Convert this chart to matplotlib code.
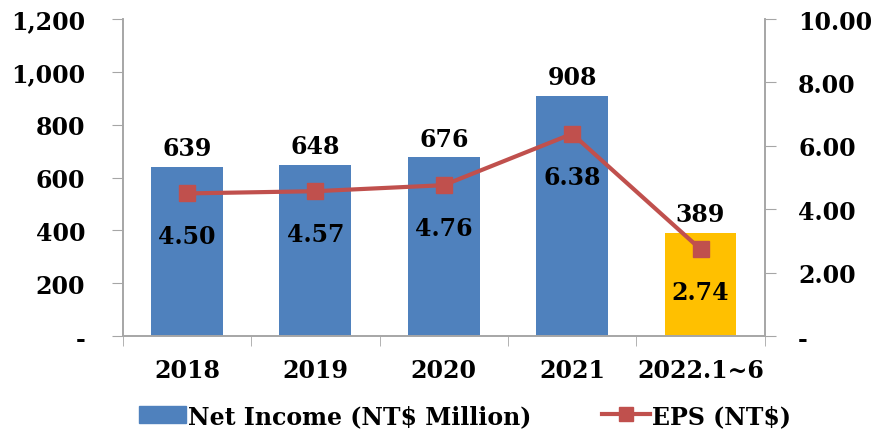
import numpy as np
import matplotlib
matplotlib.use("Agg")
import matplotlib.pyplot as plt
from matplotlib.lines import Line2D
from matplotlib.patches import Patch

#####################
### Data
#####################
years = ["2018", "2019", "2020", "2021", "2022.1~6"]
net_income = [639, 648, 676, 908, 389]
eps = [4.50, 4.57, 4.76, 6.38, 2.74]
bar_colors = ["#4F81BD", "#4F81BD", "#4F81BD", "#4F81BD", "#FFC000"]
left_ticks = [0, 200, 400, 600, 800, 1000, 1200]
left_labels = ["-", "200", "400", "600", "800", "1,000", "1,200"]
right_ticks = [0, 2, 4, 6, 8, 10]
right_labels = ["-", "2.00", "4.00", "6.00", "8.00", "10.00"]

plt.rcParams["font.family"] = "DejaVu Serif"
plt.rcParams["font.weight"] = "bold"
fs = 17
spine_c = "#A6A6A6"

#####################
### Plot
#####################
fig = plt.figure(figsize=(8.77, 4.35), dpi=100)
ax1 = fig.add_axes([0.140, 0.225, 0.732, 0.729])
x = np.arange(len(years))

ax1.bar(x, net_income, width=0.56, color=bar_colors, zorder=2)
for xi, v in zip(x, net_income):
    ax1.annotate(str(v), (xi, v), xytext=(0, 5), textcoords="offset points",
                 ha="center", va="bottom", fontsize=fs, fontweight="bold")

ax1.set_xlim(-0.5, len(years) - 0.5)
ax1.set_ylim(0, 1200)
ax1.set_yticks(left_ticks)
ax1.set_yticklabels(left_labels, fontsize=fs, fontweight="bold")
ax1.set_xticks(x)
ax1.set_xticklabels(years, fontsize=fs, fontweight="bold")
ax1.set_xticks(np.arange(len(years) + 1) - 0.5, minor=True)
ax1.tick_params(axis="x", which="major", length=0, pad=16)
ax1.tick_params(axis="x", which="minor", length=7, color=spine_c, direction="out")
ax1.tick_params(axis="y", length=8, color=spine_c, direction="out", pad=19)
ax1.spines["top"].set_visible(False)
for s in ["left", "right", "bottom"]:
    ax1.spines[s].set_color(spine_c)
    ax1.spines[s].set_linewidth(1.2)

ax2 = ax1.twinx()
ax2.plot(x, eps, color="#C0504D", linewidth=3, marker="s", markersize=12, zorder=3)
for xi, v in zip(x, eps):
    ax2.annotate("%.2f" % v, (xi, v), xytext=(0, -31), textcoords="offset points",
                 ha="center", va="center", fontsize=fs, fontweight="bold")
ax2.set_ylim(0, 10)
ax2.set_yticks(right_ticks)
ax2.set_yticklabels(right_labels, fontsize=fs, fontweight="bold")
ax2.tick_params(axis="y", length=8, color=spine_c, direction="out", pad=16)
ax2.spines["top"].set_visible(False)
for s in ["left", "right", "bottom"]:
    ax2.spines[s].set_color(spine_c)
    ax2.spines[s].set_linewidth(1.2)

handles = [Patch(color="#4F81BD"),
           Line2D([0], [0], color="#C0504D", linewidth=3, marker="s", markersize=10)]
fig.legend(handles, ["Net Income (NT$ Million)", "EPS (NT$)"], loc="center",
           bbox_to_anchor=(0.53, 0.042), ncol=2, frameon=False,
           prop={"size": fs, "weight": "bold"}, handlelength=2.0,
           handletextpad=0.1, columnspacing=3.0)

plt.savefig("out.png", dpi=100)
